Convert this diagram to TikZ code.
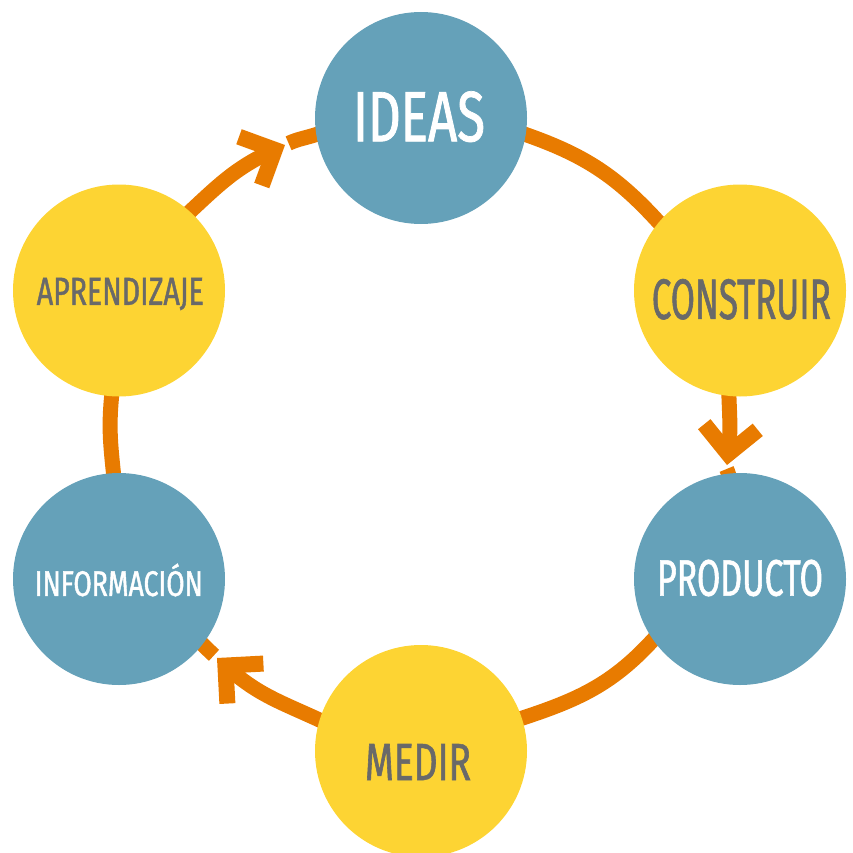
\documentclass[tikz,border=0pt]{standalone}
\usepackage{graphicx}
\usepackage{fontspec}
\setmainfont{Fira Sans}
\newfontfamily\lblfont{Fira Sans}[FakeStretch=0.62, FakeBold=1.0]
\usetikzlibrary{backgrounds}
\definecolor{ringorange}{HTML}{E87B00}
\definecolor{nodeblue}{HTML}{65A1B9}
\definecolor{nodeyellow}{HTML}{FDD433}
\definecolor{labelgray}{HTML}{696969}
\newcommand{\fitlabel}[3]{\resizebox{#1pt}{#2pt}{\lblfont\fontsize{60}{60}\selectfont #3}}
\begin{document}
\begin{tikzpicture}[x=1pt,y=1pt,
  stage/.style={circle, minimum size=212pt, inner sep=0pt, draw=none},
  bluestage/.style={stage, fill=nodeblue},
  yellowstage/.style={stage, fill=nodeyellow},
  lbl/.style={inner sep=0pt},
  ring/.style={draw=ringorange, line width=15pt, line cap=butt},
  chevron/.style={draw=ringorange, line width=16pt, line join=miter, line cap=butt},
]
\useasboundingbox (0,0) rectangle (853,-853);

% stages
\node[bluestage]   (ideas) at (421,-118) {};
\node[yellowstage] (con)   at (740,-290.5) {};
\node[bluestage]   (pro)   at (740,-579) {};
\node[yellowstage] (med)   at (421,-751) {};
\node[bluestage]   (inf)   at (119,-579) {};
\node[yellowstage] (apr)   at (119,-290.5) {};

% labels
\node[lbl, text=white]     (ideasT) at (419,-116.7)   {\fitlabel{132}{50}{IDEAS}};
\node[lbl, text=labelgray] (conT)   at (741.3,-299.3) {\fitlabel{179}{40}{CONSTRUIR}};
\node[lbl, text=white]     (proT)   at (740,-578)     {\fitlabel{166}{36}{PRODUCTO}};
\node[lbl, text=labelgray] (medT)   at (418,-762)     {\fitlabel{106}{36}{MEDIR}};
\node[lbl, text=white]     (infT)   at (118.8,-583.7) {\fitlabel{168}{25}{INFORMACI\smash{Ó}N}};
\node[lbl, text=labelgray] (aprT)   at (120.3,-294)   {\fitlabel{167}{27}{APRENDIZAJE}};

% arrow tips, shaft ends, stub starts
\coordinate (t1) at (285,-145);   \coordinate (s1) at (271.4,-151.3); \coordinate (u1) at (288.6,-143.3);
\coordinate (t2) at (727,-465);   \coordinate (s2) at (728.6,-450.1); \coordinate (u2) at (726.6,-469);
\coordinate (t3) at (217,-658);   \coordinate (s3) at (228.1,-668);   \coordinate (u3) at (214.0,-655.3);

\begin{scope}[on background layer]
  % plain arcs
  \draw[ring, shorten <=-4pt, shorten >=-4pt] (ideas.-9) to[out=-19, in=132] (con.140);
  \draw[ring, shorten <=-4pt, shorten >=-4pt] (pro.215) to[out=228, in=18] (med.18);
  \draw[ring, shorten <=-4pt, shorten >=-4pt] (inf.93) to[out=96, in=264] (apr.266);
  % arrow shafts
  \draw[ring, shorten <=-4pt] (apr.48) to[out=43, in=205] (s1);
  \draw[ring, shorten <=-4pt] (con.264) to[out=272, in=84] (s2);
  \draw[ring, shorten <=-4pt] (med.163) to[out=155, in=318] (s3);
  % stubs beyond the tips
  \draw[ring, shorten >=-4pt] (u1) to[out=25, in=199] (ideas.189);
  \draw[ring, shorten >=-4pt] (u2) to[out=264, in=83] (pro.96);
  \draw[ring, shorten >=-4pt] (u3) to[out=138, in=315] (inf.-38);
  % arrowheads
  \draw[chevron, shift={(t1)}, rotate=25]  (-38.2,26.9) -- (-11.3,0) -- (-38.2,-26.9);
  \draw[chevron, shift={(t2)}, rotate=264] (-38.2,26.9) -- (-11.3,0) -- (-38.2,-26.9);
  \draw[chevron, shift={(t3)}, rotate=138] (-38.2,26.9) -- (-11.3,0) -- (-38.2,-26.9);
\end{scope}
\end{tikzpicture}
\end{document}
